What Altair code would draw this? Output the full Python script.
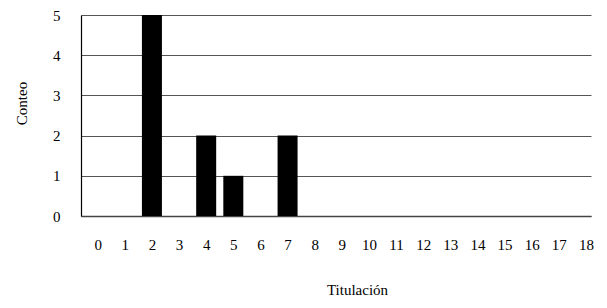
import altair as alt
import pandas as pd

titulacion = list(range(0, 19))
conteo = [0, 0, 5, 0, 2, 1, 0, 2, 0, 0, 0, 0, 0, 0, 0, 0, 0, 0, 0]

df = pd.DataFrame({"Titulación": titulacion, "Conteo": conteo})

FONT = "Liberation Serif"

chart = alt.Chart(df).mark_bar(color="black", size=20).encode(
    x=alt.X(
        "Titulación:Q",
        scale=alt.Scale(domain=[-0.43, 18.0], nice=False, zero=False),
        axis=alt.Axis(
            values=titulacion,
            format="d",
            grid=False,
            ticks=False,
            domainColor="#444444",
            domainWidth=1.5,
            labelPadding=21,
            labelFlush=False,
            title="Titulación",
            titleX=276,
            titleY=78,
            titleBaseline="alphabetic",
        ),
    ),
    y=alt.Y(
        "Conteo:Q",
        scale=alt.Scale(domain=[0, 5], nice=False),
        axis=alt.Axis(
            values=[0, 1, 2, 3, 4, 5],
            grid=True,
            gridColor="#555555",
            gridWidth=1,
            ticks=False,
            domainColor="black",
            domainWidth=1.2,
            labelPadding=21,
            title="Conteo",
            titleAngle=-90,
            titleX=-60,
            titleY=88,
            titleAlign="center",
            titleBaseline="middle",
        ),
    ),
).properties(
    width=510,
    height=201,
    autosize=alt.AutoSizeParams(type="none"),
    padding={"left": 73, "top": 7, "right": 8, "bottom": 84},
).configure(
    font=FONT
).configure_view(
    stroke=None
).configure_axis(
    labelFont=FONT,
    titleFont=FONT,
    labelFontSize=15,
    titleFontSize=15,
    labelColor="black",
    titleColor="black",
    titleFontWeight="normal",
)

chart.save("out.html", embed_options={"renderer": "svg", "actions": False})
